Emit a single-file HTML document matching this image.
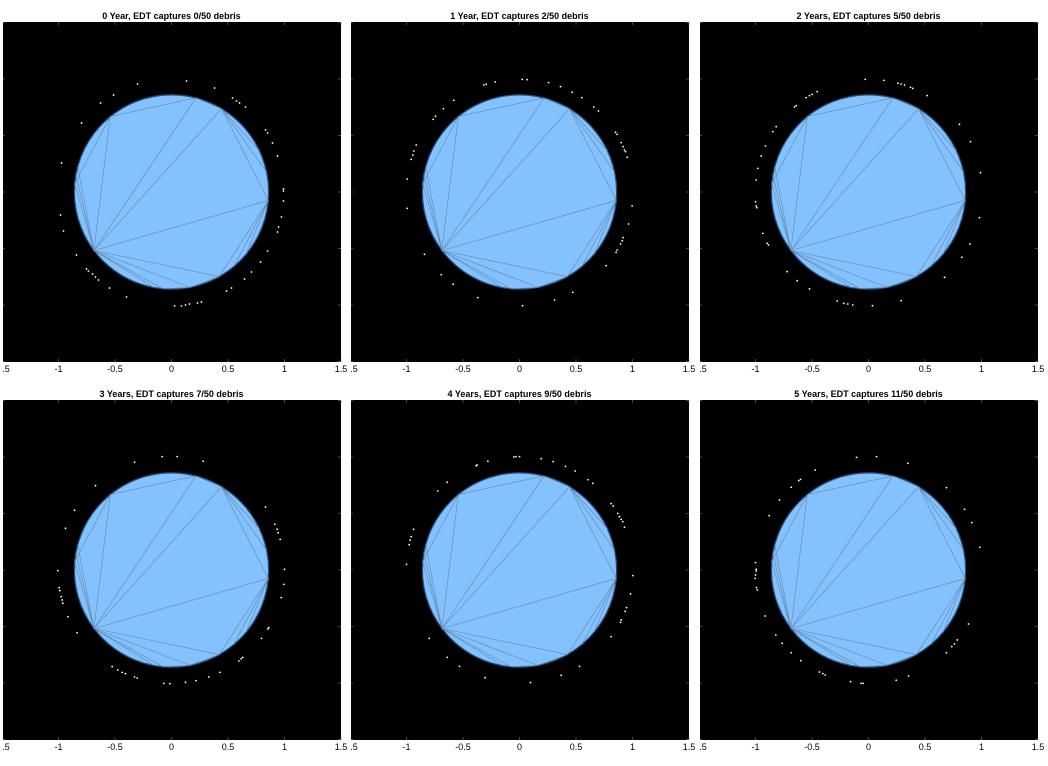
<!DOCTYPE html>
<html><head><meta charset="utf-8"><style>
html,body{margin:0;padding:0;background:#fff;}
svg{display:block;font-family:"Liberation Sans",sans-serif;}
</style></head><body>
<svg id="chart" width="1048" height="766" viewBox="0 0 1048 766" xmlns="http://www.w3.org/2000/svg"></svg>
<script>
const titles = ["0 Year, EDT captures 0/50 debris","1 Year, EDT captures 2/50 debris","2 Years, EDT captures 5/50 debris","3 Years, EDT captures 7/50 debris","4 Years, EDT captures 9/50 debris","5 Years, EDT captures 11/50 debris"];
const xTicks = [-1.5,-1,-0.5,0,0.5,1,1.5];
const xTickLabels = ["-1.5","-1","-0.5","0","0.5","1","1.5"];
const yTicks = [-1.5,-1,-0.5,0,0.5,1,1.5];
const earthRadius = 0.86;
const chordPairs = [[129,75.5],[75.5,59],[59,-5],[-5,-60.5],[-60.5,-79],[-79,-95],[-95,-143],[-143,175],[175,129],
 [-143,129],[-143,75.5],[-143,59],[-143,-5],[-143,-60.5],[-143,-79],[-143,-100],[-143,170],[-143,165],
 [59,25],[59,12],[-5,-50],[-5,-40]];
const debris0 = [[-0.301,0.956],[0.133,0.982],[0.381,0.920],[-0.513,0.858],[-0.628,0.788],[0.540,0.832],[0.575,0.805],[0.602,0.788],[0.655,0.752],[-0.796,0.611],[0.832,0.549],[0.850,0.522],[0.894,0.434],[0.938,0.319],[-0.973,0.257],[0.991,0.027],[0.991,0.009],[0.991,-0.080],[-0.982,-0.204],[0.973,-0.221],[0.947,-0.310],[0.938,-0.354],[-0.956,-0.345],[0.850,-0.522],[-0.841,-0.558],[0.788,-0.619],[-0.752,-0.681],[-0.735,-0.699],[-0.699,-0.726],[-0.673,-0.752],[-0.646,-0.779],[0.708,-0.708],[0.646,-0.770],[-0.549,-0.850],[0.531,-0.850],[0.487,-0.876],[-0.398,-0.929],[0.265,-0.973],[0.230,-0.982],[0.159,-0.991],[0.124,-1.000],[0.088,-1.009],[0.027,-1.009]];
const debris1 = [[-0.316,0.947],[-0.295,0.953],[-0.215,0.973],[0.024,0.997],[0.068,0.994],[0.257,0.968],[0.363,0.932],[0.466,0.882],[0.552,0.835],[-0.581,0.811],[-0.673,0.737],[-0.743,0.670],[-0.764,0.643],[0.658,0.752],[0.699,0.717],[0.850,0.528],[0.864,0.510],[0.900,0.437],[0.917,0.401],[0.929,0.372],[0.938,0.357],[0.953,0.307],[-0.914,0.416],[-0.935,0.363],[-0.944,0.327],[-0.959,0.289],[-0.994,0.115],[-0.994,-0.145],[0.997,-0.124],[0.965,-0.283],[0.917,-0.404],[0.909,-0.431],[0.894,-0.460],[0.864,-0.513],[0.855,-0.534],[-0.841,-0.552],[0.767,-0.652],[-0.693,-0.732],[-0.587,-0.817],[0.472,-0.888],[0.310,-0.956],[-0.369,-0.935],[0.027,-1.006]];
const debris2 = [[-0.029,0.997],[0.136,0.988],[0.260,0.962],[0.289,0.956],[0.319,0.947],[0.372,0.926],[0.392,0.917],[0.519,0.853],[-0.454,0.888],[-0.499,0.864],[-0.522,0.853],[-0.552,0.835],[-0.640,0.764],[-0.655,0.752],[-0.817,0.578],[-0.847,0.534],[0.805,0.599],[0.903,0.445],[-0.912,0.407],[-0.950,0.319],[-0.979,0.209],[-0.994,0.106],[0.991,0.171],[-1.000,-0.086],[-0.994,-0.124],[-0.988,-0.139],[0.982,-0.227],[-0.935,-0.366],[-0.897,-0.454],[-0.885,-0.469],[0.897,-0.460],[0.826,-0.578],[-0.720,-0.705],[0.673,-0.755],[-0.631,-0.785],[-0.522,-0.858],[-0.277,-0.965],[-0.218,-0.985],[-0.183,-0.991],[-0.139,-1.000],[0.035,-1.006],[0.289,-0.962]];
const debris3 = [[-0.327,0.953],[-0.083,1.003],[0.050,1.003],[0.280,0.962],[-0.673,0.746],[0.832,0.558],[-0.858,0.528],[0.914,0.404],[0.935,0.360],[0.944,0.330],[0.962,0.271],[-0.938,0.369],[-1.006,-0.006],[1.000,0.006],[0.994,-0.127],[-0.994,-0.156],[-0.988,-0.183],[-0.976,-0.236],[-0.968,-0.265],[-0.962,-0.295],[0.971,-0.245],[-0.917,-0.413],[-0.835,-0.555],[0.861,-0.510],[0.853,-0.522],[0.796,-0.605],[0.631,-0.773],[0.617,-0.785],[0.596,-0.805],[-0.525,-0.855],[-0.475,-0.885],[-0.437,-0.906],[-0.407,-0.917],[-0.327,-0.947],[-0.304,-0.956],[-0.068,-1.003],[-0.015,-1.006],[0.124,-0.994],[0.218,-0.979],[0.330,-0.947],[0.428,-0.906]];
const debris4 = [[-0.383,0.923],[-0.375,0.929],[-0.280,0.962],[-0.050,1.000],[-0.032,1.003],[0.000,1.003],[0.192,0.985],[0.298,0.959],[0.407,0.917],[0.493,0.876],[0.605,0.799],[0.649,0.767],[-0.640,0.776],[-0.723,0.699],[0.811,0.587],[0.829,0.566],[0.870,0.501],[0.885,0.472],[0.900,0.448],[0.914,0.428],[0.929,0.378],[-0.938,0.360],[-0.959,0.295],[-0.968,0.265],[-0.976,0.224],[-1.000,0.050],[1.003,-0.050],[0.982,-0.212],[0.947,-0.333],[0.935,-0.366],[0.900,-0.442],[0.894,-0.463],[0.811,-0.590],[-0.799,-0.605],[-0.640,-0.773],[-0.531,-0.853],[0.531,-0.853],[0.369,-0.932],[-0.304,-0.953],[0.097,-0.997]];
const debris5 = [[-0.106,0.997],[0.071,1.003],[0.348,0.944],[-0.472,0.885],[-0.602,0.802],[-0.617,0.791],[-0.684,0.732],[-0.788,0.619],[0.690,0.729],[0.850,0.537],[-0.879,0.481],[0.914,0.419],[0.985,0.201],[-1.000,0.065],[-0.994,0.006],[-0.994,-0.009],[-1.000,-0.044],[-1.003,-0.074],[-0.991,-0.156],[-0.985,-0.177],[-0.914,-0.407],[0.885,-0.478],[-0.820,-0.575],[-0.764,-0.649],[0.785,-0.619],[0.761,-0.655],[0.737,-0.678],[0.690,-0.732],[-0.684,-0.732],[-0.599,-0.802],[-0.434,-0.903],[-0.404,-0.917],[-0.383,-0.929],[-0.159,-0.988],[-0.065,-1.003],[-0.047,-1.003],[0.245,-0.976],[0.354,-0.938]];
const allDebris = [debris0,debris1,debris2,debris3,debris4,debris5];

const NS="http://www.w3.org/2000/svg";
const svg=document.getElementById('chart');
function mk(tag,attrs,parent){const e=document.createElementNS(NS,tag);for(const k in attrs)e.setAttribute(k,attrs[k]);(parent||svg).appendChild(e);return e;}
const panelLeft=[2,350,699], panelTop=[22,400], W=339, H=340, unit=113;
const defs=mk('defs',{});
for(let p=0;p<6;p++){
  const col=p%3,row=Math.floor(p/3);
  const L=panelLeft[col],T=panelTop[row];
  const sx=v=>L+W/2+v*unit, sy=v=>T+H/2-v*unit;
  const cp=mk('clipPath',{id:'clip'+p},defs);
  mk('rect',{x:L+1,y:T-30,width:W+12,height:H+60},cp);
  const g=mk('g',{'clip-path':'url(#clip'+p+')'});
  
  
  const bg=mk('rect',{x:L,y:T,width:W,height:H,fill:'#000'},g);
  
  
  xTicks.forEach((t,i)=>{
    mk('line',{x1:sx(t),x2:sx(t),y1:T,y2:T+3,stroke:'#777','stroke-width':0.6},g);
    mk('line',{x1:sx(t),x2:sx(t),y1:T+H,y2:T+H-3,stroke:'#777','stroke-width':0.6},g);
    const tx=mk('text',{x:sx(t),y:T+H+10,'font-size':9,'text-anchor':'middle',fill:'#000'},g);
    tx.textContent=xTickLabels[i];
    
    
  });
  yTicks.forEach(t=>{
    mk('line',{x1:L,x2:L+3,y1:sy(t),y2:sy(t),stroke:'#777','stroke-width':0.6},g);
    mk('line',{x1:L+W,x2:L+W-3,y1:sy(t),y2:sy(t),stroke:'#777','stroke-width':0.6},g);
  });
  const c=mk('circle',{cx:sx(0),cy:sy(0),r:earthRadius*unit,fill:'#84c1ff',stroke:'#1e4e78','stroke-width':1.3},g);
  
  
  const pt=a=>[sx(earthRadius*Math.cos(a*Math.PI/180)),sy(earthRadius*Math.sin(a*Math.PI/180))];
  chordPairs.forEach(pr=>{
    const a=pt(pr[0]),b=pt(pr[1]);
    const ln=mk('line',{x1:a[0],y1:a[1],x2:b[0],y2:b[1],stroke:'#6688aa','stroke-width':0.6},g);
    
    
  });
  allDebris[p].forEach(d=>{
    const dot=mk('circle',{cx:sx(d[0]),cy:sy(d[1]),r:0.9,fill:'#fff'},g);
    
    
  });
  const tt=mk('text',{x:L+W/2,y:T-3,'font-size':9,'font-weight':'bold','text-anchor':'middle',fill:'#000'});
  tt.textContent=titles[p];
  
  
}
</script>
</body></html>
